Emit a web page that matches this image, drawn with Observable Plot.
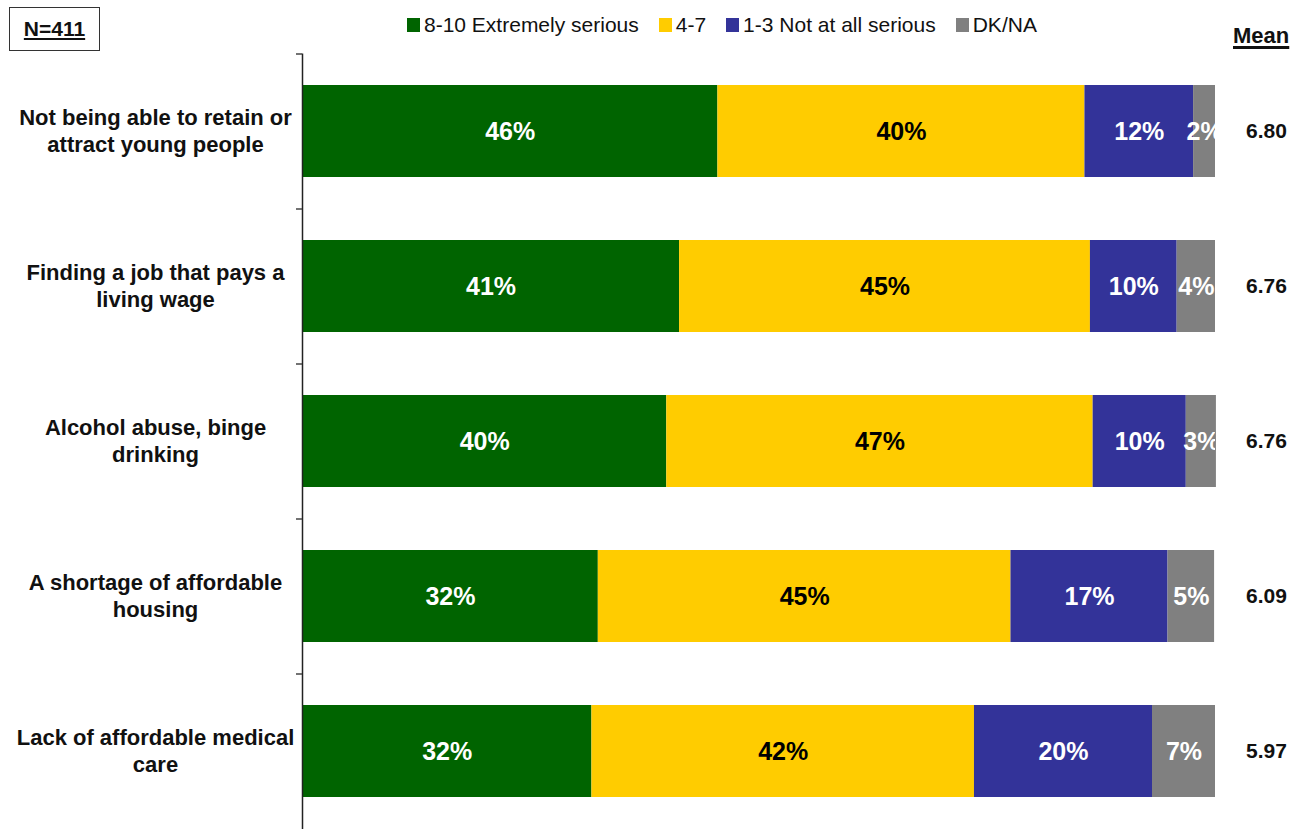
<!DOCTYPE html>
<html>
<head>
<meta charset="utf-8">
<script src="https://cdn.jsdelivr.net/npm/d3@7"></script>
<script src="https://cdn.jsdelivr.net/npm/@observablehq/plot@0.6"></script>
<style>
  html, body { margin: 0; padding: 0; background: #fff; }
  #wrap { position: relative; width: 1301px; height: 829px; font-family: "Liberation Sans", Arial, sans-serif; overflow: hidden; }
  #nbox { position: absolute; left: 9px; top: 7px; width: 91px; height: 44px; border: 1.5px solid #333; box-sizing: border-box;
          display: flex; align-items: center; justify-content: center; font-weight: bold; font-size: 21px; text-decoration: underline; text-decoration-thickness: 2px; text-underline-offset: 2px; color: #111; }
  #legend { position: absolute; left: 407px; top: 13px; height: 24px; display: flex; align-items: center; font-size: 21px; color: #111; line-height: 24px; }
  #legend .item { display: flex; align-items: center; margin-right: 20px; }
  #legend .sw { width: 13px; height: 14px; margin-right: 4px; }
  #mean { position: absolute; left: 1233px; top: 24px; font-weight: bold; font-size: 22px; line-height: 24px; text-decoration: underline; text-decoration-thickness: 2.5px; text-underline-offset: 3px; color: #111; }
  #chart { position: absolute; left: 0; top: 0; }
</style>
</head>
<body>
<div id="wrap">
  <div id="chart"></div>
  <div id="nbox">N=411</div>
  <div id="legend"></div>
  <div id="mean">Mean</div>
</div>
<script>
const categories = [
  "Not being able to retain or attract young people",
  "Finding a job that pays a living wage",
  "Alcohol abuse, binge drinking",
  "A shortage of affordable housing",
  "Lack of affordable medical care"
];
const categoryLines = [
  "Not being able to retain or\nattract young people",
  "Finding a job that pays a\nliving wage",
  "Alcohol abuse, binge\ndrinking",
  "A shortage of affordable\nhousing",
  "Lack of affordable medical\ncare"
];
const seriesNames = ["8-10 Extremely serious", "4-7", "1-3 Not at all serious", "DK/NA"];
const seriesColors = ["#006400", "#FFCC00", "#333399", "#808080"];

// segment widths (percent)
const extremely = [45.5, 41.3, 39.9, 32.4, 31.7];
const moderate  = [40.2, 45.0, 46.7, 45.2, 41.9];
const notAtAll  = [11.9,  9.5, 10.2, 17.2, 19.5];
const dkna      = [ 2.4,  4.2,  3.3,  5.1,  6.9];

// printed labels
const extremelyLabels = [46, 41, 40, 32, 32];
const moderateLabels  = [40, 45, 47, 45, 42];
const notAtAllLabels  = [12, 10, 10, 17, 20];
const dknaLabels      = [2, 4, 3, 5, 7];

const means = ["6.80", "6.76", "6.76", "6.09", "5.97"];

const seriesValues = [extremely, moderate, notAtAll, dkna];
const seriesLabels = [extremelyLabels, moderateLabels, notAtAllLabels, dknaLabels];

const rows = [];
categories.forEach((c, i) => {
  seriesNames.forEach((s, j) => {
    rows.push({category: c, series: s, value: seriesValues[j][i], label: seriesLabels[j][i] + "%"});
  });
});

const font = "'Liberation Sans', Arial, sans-serif";

const plot = Plot.plot({
  width: 1301,
  height: 829,
  marginLeft: 302,
  marginRight: 86,
  marginTop: 53.5,
  marginBottom: 0,
  style: {fontFamily: font, background: "white", overflow: "visible"},
  x: {domain: [0, 100], axis: null},
  y: {domain: categories, axis: null, paddingInner: 0.406, paddingOuter: 0.203},
  color: {domain: seriesNames, range: seriesColors},
  marks: [
    Plot.barX(rows, Plot.stackX({x: "value", y: "category", fill: "series"})),
    Plot.text(rows, Plot.stackX({
      x: "value", y: "category",
      text: d => d.series === "4-7" ? "" : d.label,
      fill: "white", fontSize: 25, fontWeight: "bold", clip: true
    })),
    Plot.text(rows, Plot.stackX({
      x: "value", y: "category",
      text: d => d.series === "4-7" ? d.label : "",
      fill: "black", fontSize: 25, fontWeight: "bold", clip: true
    })),
    Plot.ruleX([0], {stroke: "#222", strokeWidth: 1.5}),
    Plot.ruleY(categories, {y: d => d, dy: -77.5, x1: 0, x2: 0, insetLeft: -6, stroke: "#444", strokeWidth: 1.5}),
    Plot.text(categories, {
      y: d => d, text: (d, i) => categoryLines[i],
      frameAnchor: "left", dx: -147, dy: -1.5, textAnchor: "middle",
      fontSize: 22, fontWeight: "bold", lineHeight: 1.23, fill: "#111"
    }),
    Plot.text(categories, {
      y: d => d, text: (d, i) => means[i],
      frameAnchor: "right", dx: 51, textAnchor: "middle",
      fontSize: 21, fontWeight: "bold", fill: "#111"
    })
  ]
});
document.getElementById("chart").appendChild(plot);

const legend = document.getElementById("legend");
seriesNames.forEach((s, j) => {
  const item = document.createElement("div");
  item.className = "item";
  const sw = document.createElement("div");
  sw.className = "sw";
  sw.style.background = seriesColors[j];
  const t = document.createElement("span");
  t.textContent = s;
  item.appendChild(sw);
  item.appendChild(t);
  legend.appendChild(item);
});
</script>
</body>
</html>
